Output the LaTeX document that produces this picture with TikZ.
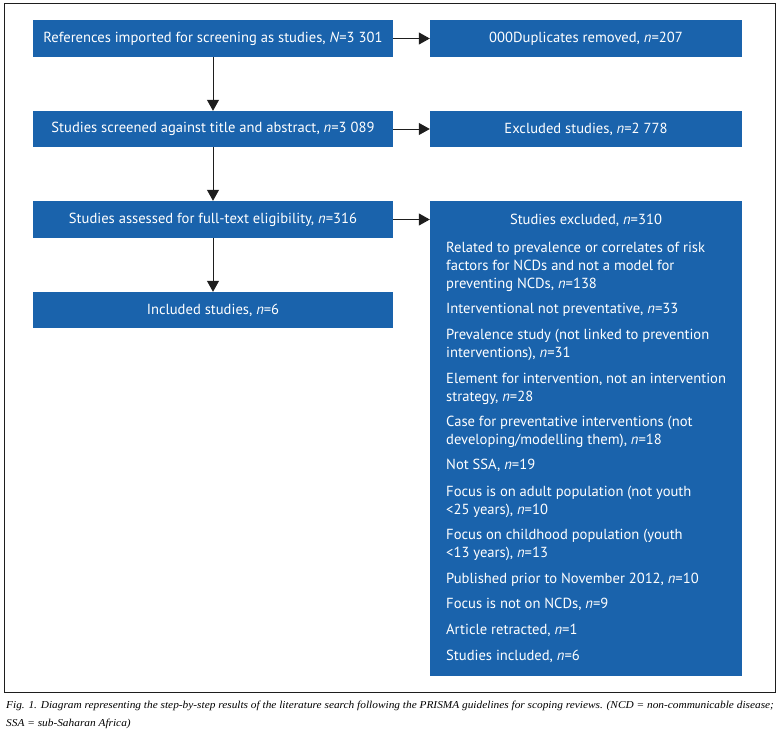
\documentclass[tikz,border=0pt]{standalone}
\usepackage{fontspec}
\setmainfont{PT Sans}
\newfontfamily\capfont[FakeStretch=1.07]{Liberation Serif}
\usetikzlibrary{arrows.meta}
\definecolor{boxblue}{RGB}{26,99,172}
\definecolor{framegray}{RGB}{30,30,30}
\tikzset{
  bluebox/.style={fill=boxblue, draw=none, text=white, inner sep=0pt,
    font=\fontsize{14.6}{17}\selectfont, align=center},
  itemline/.style={text=white, inner sep=0pt, anchor=base west,
    font=\fontsize{14.6}{17}\selectfont},
  conn/.style={line width=1pt, draw=framegray,
    -{Triangle[length=11pt,width=12pt]}},
}
\begin{document}
\begin{tikzpicture}[x=1pt,y=-1pt]
\useasboundingbox (0,0) rectangle (780,736);
\draw[line width=1pt, draw=framegray] (4,3) rectangle (775,692);

\node[bluebox, minimum width=360pt, minimum height=37pt] (refs) at (213,38.5)
  {References imported for screening as studies, \textit{N}=3\kern4pt 301};
\node[bluebox, minimum width=312pt, minimum height=37pt] (dups) at (586,38.5)
  {000Duplicates removed, \textit{n}=207};
\node[bluebox, minimum width=360pt, minimum height=36pt] (screen) at (213,129)
  {Studies screened against title and abstract, \textit{n}=3\kern4pt 089};
\node[bluebox, minimum width=312pt, minimum height=36pt] (excl) at (586,129)
  {Excluded studies, \textit{n}=2\kern4pt 778};
\node[bluebox, minimum width=360pt, minimum height=37pt] (full) at (213,219.5)
  {Studies assessed for full-text eligibility, \textit{n}=316};
\node[bluebox, minimum width=360pt, minimum height=36pt] (incl) at (213,310)
  {Included studies, \textit{n}=6};
\node[bluebox, minimum width=312pt, minimum height=475pt] (big) at (586,438.5) {};

\node[text=white, inner sep=0pt, anchor=base, font=\fontsize{14.6}{17}\selectfont] (hdr) at (586,224)
  {Studies excluded, \textit{n}=310};

\foreach \nm/\yy/\tx in {
  a1/252/{Related to prevalence or correlates of risk},
  a2/270/{factors for NCDs and not a model for},
  a3/288/{preventing NCDs, \textit{n}=138},
  b1/313/{Interventional not preventative, \textit{n}=33},
  c1/339.5/{Prevalence study (not linked to prevention},
  c2/357.5/{interventions), \textit{n}=31},
  d1/383/{Element for intervention, not an intervention},
  d2/401/{strategy, \textit{n}=28},
  e1/426.5/{Case for preventative interventions (not},
  e2/444.5/{developing/modelling them), \textit{n}=18},
  f1/469/{Not SSA, \textit{n}=19},
  g1/496/{Focus is on adult population (not youth},
  g2/514/{<25 years), \textit{n}=10},
  h1/539.5/{Focus on childhood population (youth},
  h2/557.5/{<13 years), \textit{n}=13},
  i1/583/{Published prior to November 2012, \textit{n}=10},
  j1/608.5/{Focus is not on NCDs, \textit{n}=9},
  k1/634/{Article retracted, \textit{n}=1},
  l1/660/{Studies included, \textit{n}=6}} {
  \node[itemline] (\nm) at (446,\yy) {\tx};
}

\draw[conn] (refs) -- (dups);
\draw[conn] (screen) -- (excl);
\draw[conn] (full.east) -- (full.east -| big.west);
\draw[conn] (refs) -- (screen);
\draw[conn] (screen) -- (full);
\draw[conn] (full) -- (incl);

\node[anchor=base west, inner sep=0pt, font=\capfont\itshape\fontsize{10.6}{13}\selectfont] (cap1) at (6,708)
  {Fig. 1. Diagram representing the step-by-step results of the literature search following the PRISMA guidelines for scoping reviews. (NCD = non-communicable disease;};
\node[anchor=base west, inner sep=0pt, font=\capfont\itshape\fontsize{10.6}{13}\selectfont] (cap2) at (6,726)
  {SSA = sub-Saharan Africa)};
\end{tikzpicture}
\end{document}
